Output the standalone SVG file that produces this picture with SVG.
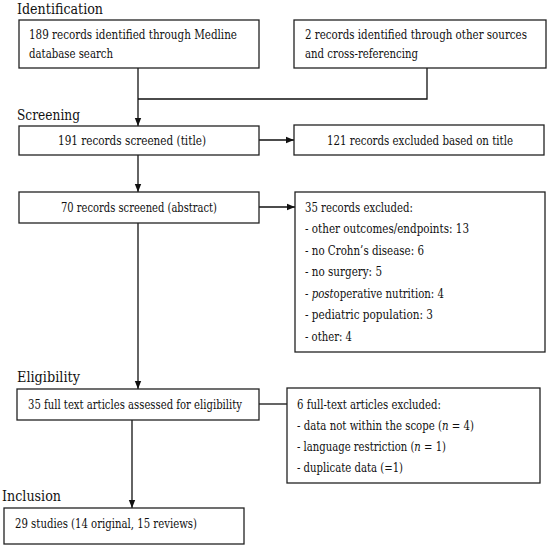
<svg xmlns="http://www.w3.org/2000/svg" width="550" height="547" viewBox="0 0 550 547">
<style>
.box{fill:#fff;stroke:#222;stroke-width:1.3}
.t{font-family:'DejaVu Serif','Liberation Serif',serif;font-size:12.2px;fill:#111}
.h{font-family:'DejaVu Serif','Liberation Serif',serif;font-size:15px;fill:#111}
.c{fill:none;stroke:#111;stroke-width:1.3}
</style>
<defs>
<marker id="ah" markerWidth="8" markerHeight="8" refX="8" refY="4" orient="auto" markerUnits="userSpaceOnUse">
<path d="M0,0.8 L8,4 L0,7.2 Z" fill="#111"/>
</marker>
</defs>
<rect width="550" height="547" fill="#fff"/>
<text class="h" x="17" y="14" textLength="86" lengthAdjust="spacingAndGlyphs">Identification</text>
<text class="h" x="17" y="120" textLength="63" lengthAdjust="spacingAndGlyphs">Screening</text>
<text class="h" x="17" y="382" textLength="63" lengthAdjust="spacingAndGlyphs">Eligibility</text>
<text class="h" x="2" y="501" textLength="59" lengthAdjust="spacingAndGlyphs">Inclusion</text>
<g id="connectors">
<path class="c" d="M138,68 V126" marker-end="url(#ah)"/>
<path class="c" d="M427,68 V99 H138"/>
<path class="c" d="M259,140 H294" marker-end="url(#ah)"/>
<path class="c" d="M138,155 V192" marker-end="url(#ah)"/>
<path class="c" d="M259,207 H295" marker-end="url(#ah)"/>
<path class="c" d="M138,223 V389" marker-end="url(#ah)"/>
<path class="c" d="M259,404 H287"/>
<path class="c" d="M132,420 V508" marker-end="url(#ah)"/>
</g>
<g id="n1">
<rect class="box" x="19" y="20" width="240" height="48"/>
<text class="t" x="29" y="39" textLength="208" lengthAdjust="spacingAndGlyphs">189 records identified through Medline</text>
<text class="t" x="29" y="58" textLength="84" lengthAdjust="spacingAndGlyphs">database search</text>
</g>
<g id="n2">
<rect class="box" x="294" y="20" width="252" height="48"/>
<text class="t" x="305" y="39" textLength="222" lengthAdjust="spacingAndGlyphs">2 records identified through other sources</text>
<text class="t" x="305" y="58" textLength="113" lengthAdjust="spacingAndGlyphs">and cross-referencing</text>
</g>
<g id="n3">
<rect class="box" x="19" y="126" width="240" height="29"/>
<text class="t" x="58" y="145" textLength="148" lengthAdjust="spacingAndGlyphs">191 records screened (title)</text>
</g>
<g id="n4">
<rect class="box" x="294" y="125" width="250" height="30"/>
<text class="t" x="327" y="144.5" textLength="186" lengthAdjust="spacingAndGlyphs">121 records excluded based on title</text>
</g>
<g id="n5">
<rect class="box" x="19" y="192" width="240" height="31"/>
<text class="t" x="61" y="211.5" textLength="156" lengthAdjust="spacingAndGlyphs">70 records screened (abstract)</text>
</g>
<g id="n6">
<rect class="box" x="295" y="192" width="250" height="160"/>
<text class="t" x="305" y="211.5" textLength="108" lengthAdjust="spacingAndGlyphs">35 records excluded:</text>
<text class="t" x="305" y="233" textLength="164" lengthAdjust="spacingAndGlyphs">- other outcomes/endpoints: 13</text>
<text class="t" x="305" y="254.5" textLength="119" lengthAdjust="spacingAndGlyphs">- no Crohn’s disease: 6</text>
<text class="t" x="305" y="276" textLength="77" lengthAdjust="spacingAndGlyphs">- no surgery: 5</text>
<text class="t" x="305" y="297.5" textLength="139" lengthAdjust="spacingAndGlyphs">- <tspan font-style="italic">post</tspan>operative nutrition: 4</text>
<text class="t" x="305" y="319" textLength="128" lengthAdjust="spacingAndGlyphs">- pediatric population: 3</text>
<text class="t" x="305" y="340.5" textLength="47" lengthAdjust="spacingAndGlyphs">- other: 4</text>
</g>
<g id="n7">
<rect class="box" x="17" y="389" width="242" height="31"/>
<text class="t" x="28" y="408.5" textLength="214" lengthAdjust="spacingAndGlyphs">35 full text articles assessed for eligibility</text>
</g>
<g id="n8">
<rect class="box" x="287" y="388" width="253" height="95"/>
<text class="t" x="297" y="408.5" textLength="144" lengthAdjust="spacingAndGlyphs">6 full-text articles excluded:</text>
<text class="t" x="297" y="429.5" textLength="177" lengthAdjust="spacingAndGlyphs">- data not within the scope (<tspan font-style="italic">n</tspan> = 4)</text>
<text class="t" x="297" y="450.5" textLength="149" lengthAdjust="spacingAndGlyphs">- language restriction (<tspan font-style="italic">n</tspan> = 1)</text>
<text class="t" x="297" y="471.5" textLength="106" lengthAdjust="spacingAndGlyphs">- duplicate data (=1)</text>
</g>
<g id="n9">
<rect class="box" x="4" y="508" width="240" height="36"/>
<text class="t" x="15" y="527.5" textLength="182" lengthAdjust="spacingAndGlyphs">29 studies (14 original, 15 reviews)</text>
</g>
</svg>
